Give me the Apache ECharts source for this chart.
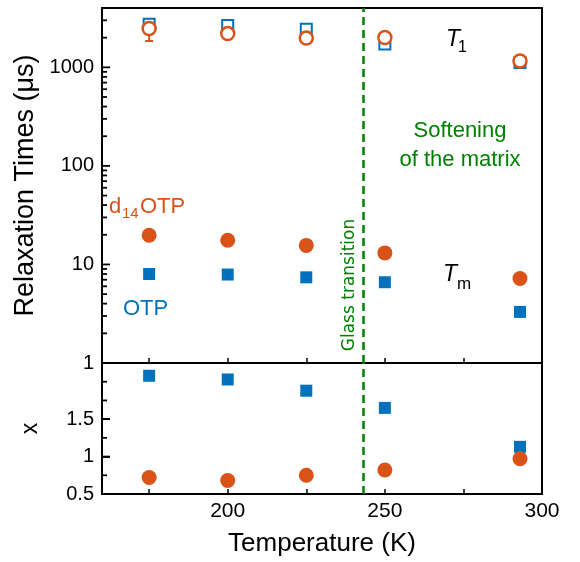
<!DOCTYPE html>
<html>
<head>
<meta charset="utf-8">
<script src="https://cdn.jsdelivr.net/npm/echarts@6/dist/echarts.min.js"></script>
<style>
html,body{margin:0;padding:0;background:#fff;}
#chart{width:580px;height:562px;}
</style>
</head>
<body>
<div id="chart"></div>
<script>
// ---- data ----
const temps = [175, 200, 225, 250, 293];
const t1OTP = [2740, 2650, 2440, 1720, 1120];
const t1D14 = [2480, 2200, 1980, 2010, 1160];
const tmOTP = [8.0, 7.9, 7.4, 6.6, 3.3];
const tmD14 = [19.8, 17.6, 15.6, 13.1, 7.2];
const xOTP = [2.08, 2.03, 1.88, 1.65, 1.13];
const xD14 = [0.72, 0.68, 0.75, 0.82, 0.97];
const errTemps = [175];
const errLow = [1850];
const errHigh = [3080];
const glassT = 243;
const xMin = 160, xMax = 300;
const xTicks = [175, 200, 225, 250, 275, 300];
const xLabels = [200, 250, 300];
const yTopLabels = [1, 10, 100, 1000];
const yTopMinor = [2,3,4,5,6,7,8,9,20,30,40,50,60,70,80,90,200,300,400,500,600,700,800,900,2000,3000,4000];
const yBotLabels = [0.5, 1, 1.5];
const yBotMinor = [0.75, 1.25, 1.75, 2.0];

const BLUE = '#0072BD', ORANGE = '#D95319', GREEN = '#008000';
const FONT = '"Liberation Sans", Arial, sans-serif';

const pairs = (xs, ys) => xs.map((x, i) => [x, ys[i]]);
const errData = errTemps.map((t, i) => [t, errLow[i], errHigh[i]]);

const chart = echarts.init(document.getElementById('chart'), null, {renderer: 'canvas'});

const glassLine = {
  silent: true, symbol: ['none', 'none'], label: {show: false},
  lineStyle: {color: GREEN, type: [8, 5], width: 2.5, opacity: 1},
  emphasis: {disabled: true},
  data: [{xAxis: glassT}], animation: false
};

const baseX = (grid, showLabels) => ({
  gridIndex: grid, type: 'value', min: xMin, max: xMax, position: 'bottom',
  axisLine: {show: true, lineStyle: {color: '#000', width: 2}},
  axisTick: {show: true, inside: true, length: 5, customValues: xTicks, lineStyle: {color: '#000', width: 1.5}},
  axisLabel: showLabels ? {customValues: xLabels, fontSize: 21, color: '#000', fontFamily: FONT, margin: 7} : {show: false},
  splitLine: {show: false}
});

// y-axis ticks drawn through the axis scale (inward, major longer than minor)
const tickSeries = (gi, majors, minors) => ({
  type: 'custom', coordinateSystem: 'cartesian2d', xAxisIndex: gi, yAxisIndex: gi, z: 20, clip: false, silent: true,
  data: majors.map(v => [xMin, v]).concat(minors.map(v => [xMin, v])),
  renderItem: function (params, api) {
    const v = api.value(1);
    const p = api.coord([api.value(0), v]);
    const len = majors.indexOf(v) >= 0 ? 8 : 5;
    return {type: 'rect', shape: {x: p[0], y: p[1] - 0.9, width: len, height: 1.8},
      style: {fill: '#000'}};
  }
});

const option = {
  animation: false,
  backgroundColor: '#fff',
  textStyle: {fontFamily: FONT},
  grid: [
    {left: 102, right: 38, top: 8, height: 355, show: true, borderColor: '#000', borderWidth: 2},
    {left: 102, right: 38, top: 363, height: 131, show: true, borderColor: '#000', borderWidth: 2}
  ],
  xAxis: [
    baseX(0, false),
    Object.assign(baseX(1, true), {
      name: 'Temperature (K)', nameLocation: 'middle', nameGap: 37,
      nameTextStyle: {fontSize: 26, color: '#000', fontFamily: FONT}
    })
  ],
  yAxis: [
    {
      gridIndex: 0, type: 'log', logBase: 10, min: 1, max: 4000, position: 'left',
      axisLine: {show: true, lineStyle: {color: '#000', width: 2}},
      axisTick: {show: false},
      axisLabel: {customValues: yTopLabels, fontSize: 20, color: '#000', fontFamily: FONT, margin: 8,
        formatter: v => String(Math.round(v))},
      splitLine: {show: false},
      name: 'Relaxation Times (μs)', nameLocation: 'middle', nameGap: 57,
      nameTextStyle: {fontSize: 27, color: '#000', fontFamily: FONT}
    },
    {
      gridIndex: 1, type: 'value', min: 0.5, max: 2.25, position: 'left',
      axisLine: {show: true, lineStyle: {color: '#000', width: 2}},
      axisTick: {show: true, inside: true, length: 8, customValues: yBotLabels, lineStyle: {color: '#000', width: 1.8}},
      axisLabel: {customValues: yBotLabels, fontSize: 20, color: '#000', fontFamily: FONT, margin: 8,
        formatter: v => String(v)},
      splitLine: {show: false},
      name: 'x', nameLocation: 'middle', nameGap: 60,
      nameTextStyle: {fontSize: 23, color: '#000', fontFamily: FONT}
    }
  ],
  series: [
    tickSeries(0, yTopLabels, yTopMinor),
    tickSeries(1, yBotLabels, yBotMinor),
    {
      type: 'custom', xAxisIndex: 0, yAxisIndex: 0, z: 1,
      data: errData, encode: {x: 0, y: [1, 2]},
      renderItem: function (params, api) {
        const x = api.value(0);
        const p1 = api.coord([x, api.value(1)]);
        const p2 = api.coord([x, api.value(2)]);
        const w = 4;
        const st = {stroke: ORANGE, lineWidth: 2};
        return {type: 'group', children: [
          {type: 'line', shape: {x1: p1[0], y1: p1[1], x2: p2[0], y2: p2[1]}, style: st},
          {type: 'line', shape: {x1: p1[0] - w, y1: p1[1], x2: p1[0] + w, y2: p1[1]}, style: st},
          {type: 'line', shape: {x1: p2[0] - w, y1: p2[1], x2: p2[0] + w, y2: p2[1]}, style: st}
        ]};
      }
    },
    {
      type: 'scatter', xAxisIndex: 0, yAxisIndex: 0, z: 2,
      symbol: 'rect', symbolSize: 11,
      itemStyle: {color: '#fff', borderColor: BLUE, borderWidth: 2, opacity: 1},
      data: pairs(temps, t1OTP), markLine: glassLine
    },
    {
      type: 'scatter', xAxisIndex: 0, yAxisIndex: 0, z: 3,
      symbol: 'circle', symbolSize: 13,
      itemStyle: {color: '#fff', borderColor: ORANGE, borderWidth: 2.5, opacity: 1},
      data: pairs(temps, t1D14)
    },
    {
      type: 'scatter', xAxisIndex: 0, yAxisIndex: 0, z: 3,
      symbol: 'rect', symbolSize: 12, itemStyle: {color: BLUE, opacity: 1},
      data: pairs(temps, tmOTP)
    },
    {
      type: 'scatter', xAxisIndex: 0, yAxisIndex: 0, z: 3,
      symbol: 'circle', symbolSize: 15, itemStyle: {color: ORANGE, opacity: 1},
      data: pairs(temps, tmD14)
    },
    {
      type: 'scatter', xAxisIndex: 1, yAxisIndex: 1, z: 3,
      symbol: 'rect', symbolSize: 12, itemStyle: {color: BLUE, opacity: 1},
      data: pairs(temps, xOTP), markLine: glassLine
    },
    {
      type: 'scatter', xAxisIndex: 1, yAxisIndex: 1, z: 3,
      symbol: 'circle', symbolSize: 15, itemStyle: {color: ORANGE, opacity: 1},
      data: pairs(temps, xD14)
    }
  ],
  graphic: [
    {type: 'text', x: 453, y: 40, style: {text: 'T', fill: '#000', fontSize: 23, fontStyle: 'italic', fontFamily: FONT, align: 'center', verticalAlign: 'middle'}},
    {type: 'text', x: 458, y: 48, style: {text: '1', fill: '#000', fontSize: 16, fontFamily: FONT, align: 'left', verticalAlign: 'middle'}},
    {type: 'text', x: 450, y: 275, style: {text: 'T', fill: '#000', fontSize: 23, fontStyle: 'italic', fontFamily: FONT, align: 'center', verticalAlign: 'middle'}},
    {type: 'text', x: 457, y: 284, style: {text: 'm', fill: '#000', fontSize: 17, fontFamily: FONT, align: 'left', verticalAlign: 'middle'}},
    {type: 'text', x: 460, y: 131, style: {text: 'Softening', fill: GREEN, fontSize: 22, fontFamily: FONT, align: 'center', verticalAlign: 'middle'}},
    {type: 'text', x: 460, y: 160, style: {text: 'of the matrix', fill: GREEN, fontSize: 22, fontFamily: FONT, align: 'center', verticalAlign: 'middle'}},
    {type: 'text', x: 350, y: 285, rotation: Math.PI / 2, style: {text: 'Glass transition', fill: GREEN, fontSize: 17, fontFamily: '"DejaVu Sans", sans-serif', align: 'center', verticalAlign: 'middle'}},
    {type: 'text', x: 109, y: 207, style: {text: 'd', fill: ORANGE, fontSize: 22, fontFamily: FONT, align: 'left', verticalAlign: 'middle'}},
    {type: 'text', x: 122, y: 214, style: {text: '14', fill: ORANGE, fontSize: 15, fontFamily: FONT, align: 'left', verticalAlign: 'middle'}},
    {type: 'text', x: 140, y: 207, style: {text: 'OTP', fill: ORANGE, fontSize: 22, fontFamily: FONT, align: 'left', verticalAlign: 'middle'}},
    {type: 'text', x: 123, y: 309, style: {text: 'OTP', fill: BLUE, fontSize: 22, fontFamily: FONT, align: 'left', verticalAlign: 'middle'}}
  ]
};
chart.setOption(option);
</script>
</body>
</html>
